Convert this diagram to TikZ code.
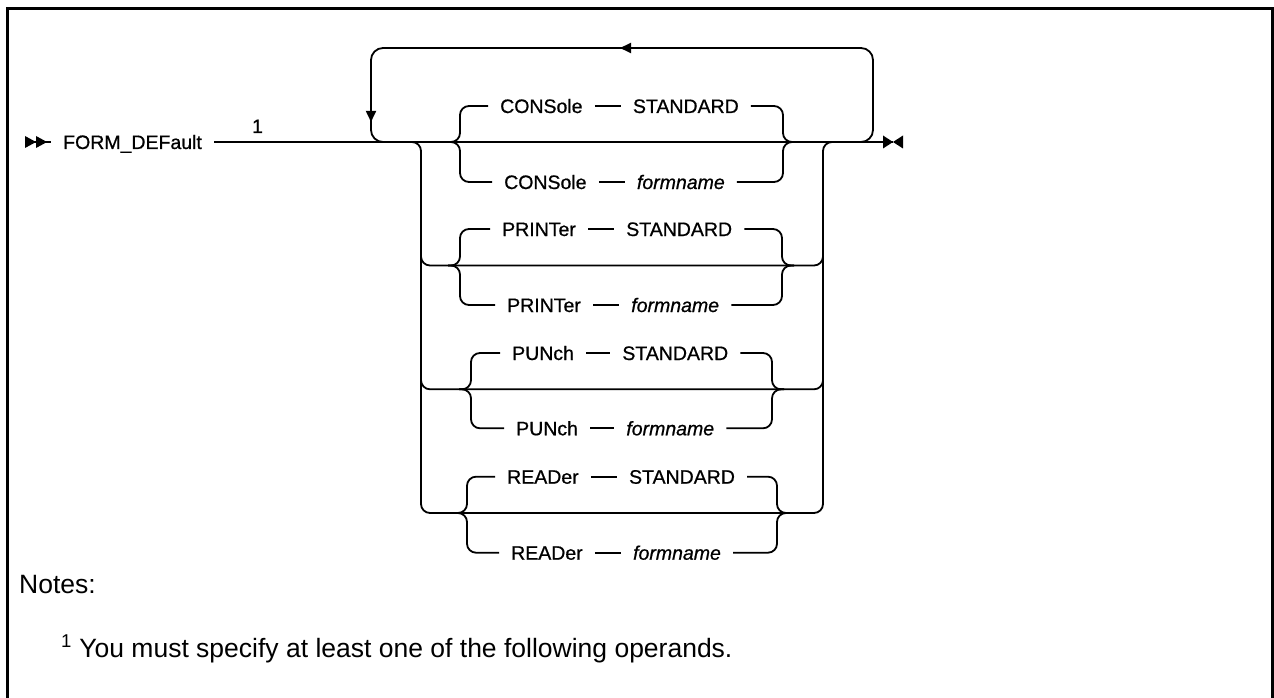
\documentclass[tikz,border=0pt]{standalone}
\usepackage{fontspec}
\setmainfont{Liberation Sans}
\newfontfamily\railfam{Liberation Sans}[FakeBold=0.7]
\usetikzlibrary{positioning,arrows.meta,decorations.markings}
\newcommand{\railfont}{\railfam\fontsize{19.5}{22}\selectfont}
\newcommand{\notefont}{\fontsize{26.5}{30}\selectfont}

\begin{document}
\begin{tikzpicture}[x=1pt, y=-1pt,
  rail/.style={line width=1.8pt},
  brace/.style={rail, rounded corners=9pt},
  kw/.style={inner xsep=12pt, inner ysep=0pt, text height=14pt, text depth=0pt, font=\railfont},
  fname/.style={kw, font=\railfont\itshape},
  note/.style={inner sep=0pt, font=\notefont},
  looparrows/.style={postaction={decorate}, decoration={markings,
    mark=at position 350.7pt with {\arrow{Triangle[length=11pt,width=10pt]}},
    mark=at position 668.5pt with {\arrow{Triangle[length=11pt,width=10pt]}}}}]

	\useasboundingbox (0,0) rectangle (1274,698);
	\draw[line width=2.4pt] (7.5,698) -- (7.5,8.5) -- (1272.5,8.5) -- (1272.5,698);

	% start of the statement
	\coordinate (start) at (25,142);
	\fill (start) ++(0,-6) -- ++(11,6) -- ++(-11,6) -- cycle;
	\fill (start) ++(11,-6) -- ++(11,6) -- ++(-11,6) -- cycle;
	\node[kw, anchor=west] (form) at (51,142) {FORM\_DEFault};
	\node[kw] (ref1) at (257.5,126) {1};
	\draw[rail] (start) -- (form);

	% end of the statement
	\coordinate (end) at (893,142);
	\fill (end) ++(-10,-6.5) -- ++(10,6.5) -- ++(-10,6.5) -- cycle;
	\fill (end) ++(10,-6.5) -- ++(-10,6.5) -- ++(10,6.5) -- cycle;
	\draw[rail] (form) -- (end);

	% repeat loop
	\coordinate (loopL) at (371,142);
	\coordinate (loopR) at (873,142);
	\draw[rail, rounded corners=12pt, looparrows] (loopR) ++(-14,0) -- (loopR) -- (873,48) -- (371,48) -- (loopL) -- ++(14,0);

	% outer choice
	\coordinate (outL) at (421,142);
	\coordinate (outR) at (823,142);
	\draw[brace] (outL) ++(-12,0) -- (outL) -- (421,513) -- (823,513) -- (outR) -- ++(12,0);
	\draw[brace] (421,241) -- (421,265.5) -- (823,265.5) -- (823,241);
	\draw[brace] (421,365) -- (421,389.3) -- (823,389.3) -- (823,365);

	% CONSole
	\coordinate (bl1) at (460,142);
	\coordinate (br1) at (783,142);
	\node[kw, anchor=west] (con-s) at (488,106) {CONSole};
	\node[kw, right=26pt of con-s] (con-std) {STANDARD};
	\node[kw, anchor=west] (con-f) at (492,182) {CONSole};
	\node[fname, right=26pt of con-f] (con-fn) {formname};
	\draw[rail] (con-s) -- (con-std);
	\draw[rail] (con-f) -- (con-fn);
	\draw[brace] (bl1) ++(-12,0) -- ++(12,0) |- (con-s.west);
	\draw[brace] (bl1) ++(-12,0) -- ++(12,0) |- (con-f.west);
	\draw[brace] (con-std.east) -| (br1) -- ++(12,0);
	\draw[brace] (con-fn.east) -| (br1) -- ++(12,0);

	% PRINTer
	\coordinate (bl2) at (460,265.5);
	\coordinate (br2) at (782,265.5);
	\node[kw, anchor=west] (prt-s) at (490,229) {PRINTer};
	\node[kw, right=26pt of prt-s] (prt-std) {STANDARD};
	\node[kw, anchor=west] (prt-f) at (495,305) {PRINTer};
	\node[fname, right=26pt of prt-f] (prt-fn) {formname};
	\draw[rail] (prt-s) -- (prt-std);
	\draw[rail] (prt-f) -- (prt-fn);
	\draw[brace] (bl2) ++(-12,0) -- ++(12,0) |- (prt-s.west);
	\draw[brace] (bl2) ++(-12,0) -- ++(12,0) |- (prt-f.west);
	\draw[brace] (prt-std.east) -| (br2) -- ++(12,0);
	\draw[brace] (prt-fn.east) -| (br2) -- ++(12,0);

	% PUNch
	\coordinate (bl3) at (471,389.3);
	\coordinate (br3) at (772,389.3);
	\node[kw, anchor=west] (pun-s) at (500,353) {PUNch};
	\node[kw, right=24pt of pun-s] (pun-std) {STANDARD};
	\node[kw, anchor=west] (pun-f) at (504,428.3) {PUNch};
	\node[fname, right=24pt of pun-f] (pun-fn) {formname};
	\draw[rail] (pun-s) -- (pun-std);
	\draw[rail] (pun-f) -- (pun-fn);
	\draw[brace] (bl3) ++(-12,0) -- ++(12,0) |- (pun-s.west);
	\draw[brace] (bl3) ++(-12,0) -- ++(12,0) |- (pun-f.west);
	\draw[brace] (pun-std.east) -| (br3) -- ++(12,0);
	\draw[brace] (pun-fn.east) -| (br3) -- ++(12,0);

	% READer
	\coordinate (bl4) at (467,513);
	\coordinate (br4) at (777,513);
	\node[kw, anchor=west] (rdr-s) at (495,476.7) {READer};
	\node[kw, right=26pt of rdr-s] (rdr-std) {STANDARD};
	\node[kw, anchor=west] (rdr-f) at (499,552.7) {READer};
	\node[fname, right=26pt of rdr-f] (rdr-fn) {formname};
	\draw[rail] (rdr-s) -- (rdr-std);
	\draw[rail] (rdr-f) -- (rdr-fn);
	\draw[brace] (bl4) ++(-12,0) -- ++(12,0) |- (rdr-s.west);
	\draw[brace] (bl4) ++(-12,0) -- ++(12,0) |- (rdr-f.west);
	\draw[brace] (rdr-std.east) -| (br4) -- ++(12,0);
	\draw[brace] (rdr-fn.east) -| (br4) -- ++(12,0);

	% notes
	\node[note, anchor=base west] (notes) at (19,593) {Notes:};
	\node[note, anchor=base west] (fnote) at (61,657) {\textsuperscript{1} You must specify at least one of the following operands.};
\end{tikzpicture}
\end{document}
